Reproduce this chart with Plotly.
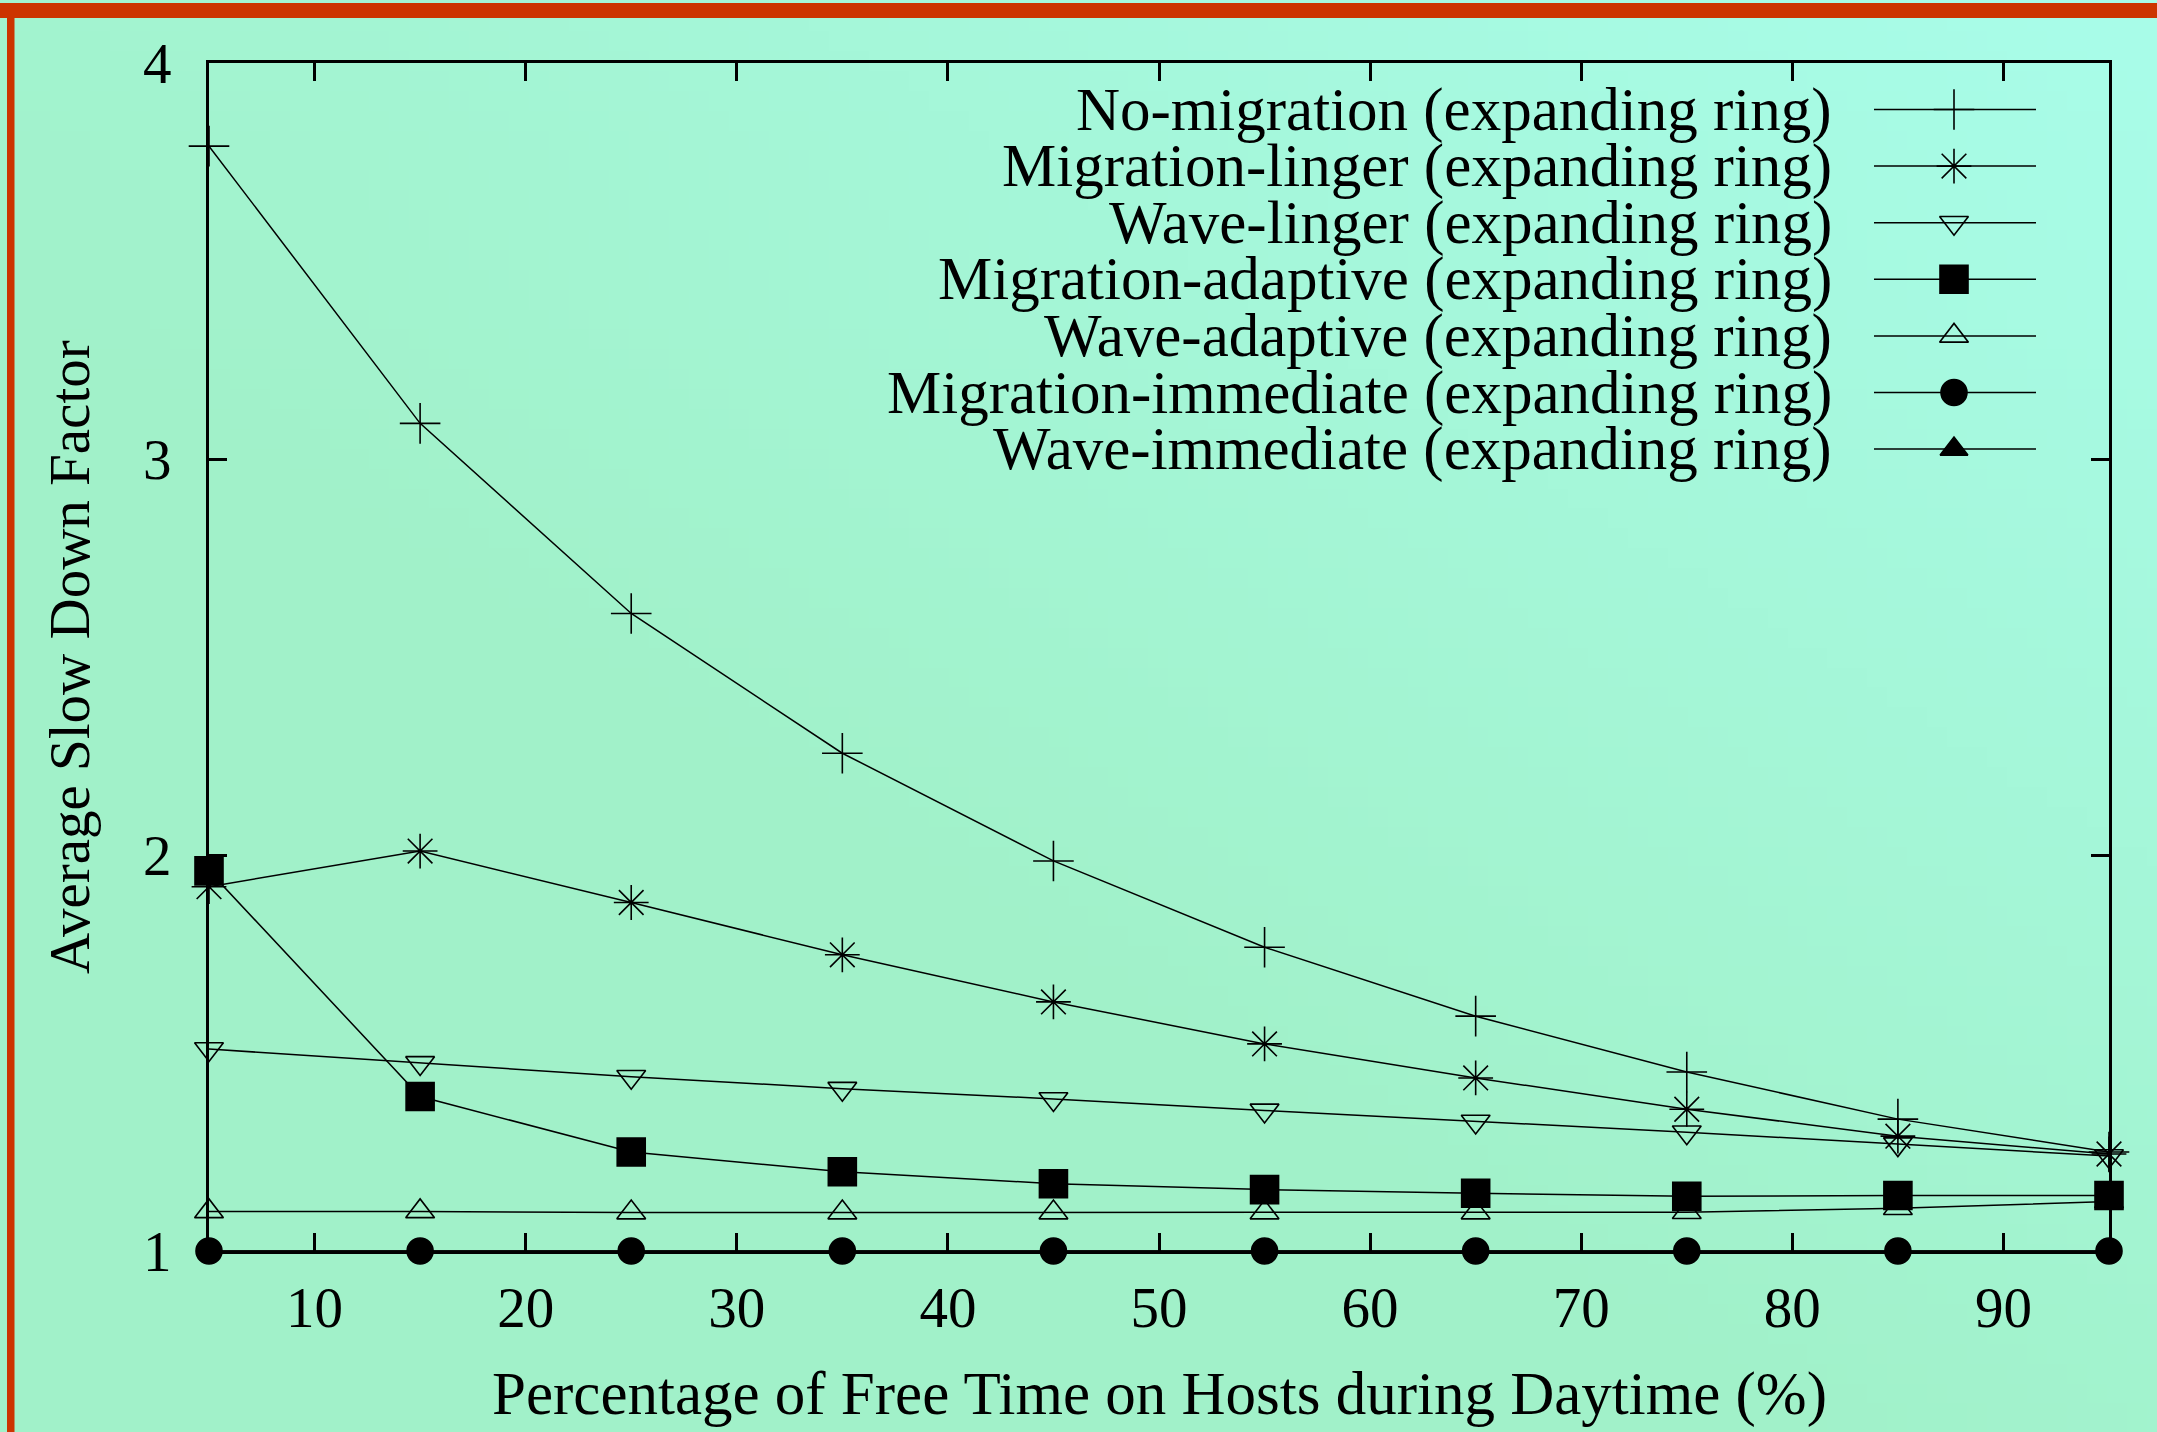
import base64
import struct
import zlib

import numpy as np
import plotly.graph_objects as go

# ---------------- data ----------------
free_time_pct = [5, 15, 25, 35, 45, 55, 65, 75, 85, 95]
x_ticks = [10, 20, 30, 40, 50, 60, 70, 80, 90]
y_ticks = [1, 2, 3, 4]

no_migration = [3.79, 3.09, 2.61, 2.257, 1.985, 1.767, 1.593, 1.452, 1.333, 1.25]
migration_linger = [1.92, 2.01, 1.88, 1.748, 1.629, 1.523, 1.437, 1.358, 1.29, 1.245]
wave_linger = [1.51, 1.475, 1.44, 1.41, 1.384, 1.355, 1.327, 1.30, 1.27, 1.24]
migration_adaptive = [1.96, 1.39, 1.25, 1.20, 1.17, 1.155, 1.146, 1.138, 1.14, 1.14]
wave_adaptive = [1.10, 1.10, 1.097, 1.097, 1.097, 1.097, 1.097, 1.098, 1.108, 1.125]
migration_immediate = [1.0, 1.0, 1.0, 1.0, 1.0, 1.0, 1.0, 1.0, 1.0, 1.0]
wave_immediate = [1.0, 1.0, 1.0, 1.0, 1.0, 1.0, 1.0, 1.0, 1.0, 1.0]

series_names = [
    "No-migration (expanding ring)",
    "Migration-linger (expanding ring)",
    "Wave-linger (expanding ring)",
    "Migration-adaptive (expanding ring)",
    "Wave-adaptive (expanding ring)",
    "Migration-immediate (expanding ring)",
    "Wave-immediate (expanding ring)",
]
series_values = [no_migration, migration_linger, wave_linger, migration_adaptive,
                 wave_adaptive, migration_immediate, wave_immediate]
series_symbols = ["cross-thin-open", "asterisk-open", "triangle-down-open", "square",
                  "triangle-up-open", "circle", "triangle-up"]
series_sizes = [29, 29, 25, 28, 25, 26, 19]

x_title = "Percentage of Free Time on Hosts during Daytime (%)"
y_title = "Average Slow Down Factor"

# ---------------- geometry ----------------
W, H = 2157, 1432
L, R, T, B = 209, 2109, 63, 1251  # plot area in pixels
PW, PH = R - L, B - T


def px2x(px):
    return (px - L) / PW


def py2y(py):
    return (B - py) / PH


FONT = "Liberation Serif"
FS = 57      # tick labels / y title
FS_H = 61    # horizontal long texts (legend, x title)

# ---------------- background gradient image ----------------
gw, gh = 108, 72
xf = np.linspace(0, 1, gw)[None, :]
yf = np.linspace(0, 1, gh)[:, None]
wgt = np.clip(0.85 * xf + 0.9 * (1 - yf) - 0.7, 0, 1)[..., None]
green = np.array([161, 241, 201], dtype=float)
cyan = np.array([168, 252, 232], dtype=float)
img = (green * (1 - wgt) + cyan * wgt).round().astype(np.uint8)


def make_png(arr):
    h, w, _ = arr.shape
    raw = b"".join(b"\x00" + arr[r].tobytes() for r in range(h))

    def chunk(t, d):
        return struct.pack(">I", len(d)) + t + d + struct.pack(">I", zlib.crc32(t + d) & 0xFFFFFFFF)

    return (b"\x89PNG\r\n\x1a\n"
            + chunk(b"IHDR", struct.pack(">IIBBBBB", w, h, 8, 2, 0, 0, 0))
            + chunk(b"IDAT", zlib.compress(raw))
            + chunk(b"IEND", b""))


bg_uri = "data:image/png;base64," + base64.b64encode(make_png(img)).decode()

# ---------------- figure ----------------
fig = go.Figure()

for name, vals, sym, sz in zip(series_names, series_values, series_symbols, series_sizes):
    fig.add_trace(go.Scatter(
        x=free_time_pct, y=vals, name=name, mode="lines+markers",
        line=dict(color="black", width=1.5),
        marker=dict(symbol=sym, size=sz, color="black",
                    line=dict(color="black", width=1.6)),
        cliponaxis=False, showlegend=False,
    ))

# custom legend (text right-aligned, sample on the right) on a pixel-based overlay axis
leg_text_right = 1834
leg_line_x0, leg_line_x1, leg_mark_x = 1874, 2036, 1954
leg_row0, leg_step = 109.5, 56.6
annotations = []
shapes = []
for i, (name, sym, sz) in enumerate(zip(series_names, series_symbols, series_sizes)):
    ry = leg_row0 + i * leg_step
    shapes.append(dict(type="line", xref="x2", yref="y2", x0=leg_line_x0, x1=leg_line_x1,
                       y0=ry, y1=ry, line=dict(color="black", width=1.5), layer="above"))
    fig.add_trace(go.Scatter(
        x=[leg_mark_x], y=[ry], mode="markers", xaxis="x2", yaxis="y2",
        marker=dict(symbol=sym, size=sz if sym != "triangle-up" else 24, color="black",
                    line=dict(color="black", width=1.6)),
        showlegend=False, hoverinfo="skip", cliponaxis=False,
    ))
    annotations.append(dict(text=name, xref="x2", yref="y2", x=leg_text_right, y=ry,
                            xanchor="right", yanchor="middle", showarrow=False,
                            font=dict(family=FONT, size=FS_H, color="black")))

# axis titles
annotations.append(dict(text=x_title, xref="paper", yref="paper", x=0.5, y=py2y(1394),
                        xanchor="center", yanchor="middle", showarrow=False,
                        font=dict(family=FONT, size=FS_H, color="black")))
annotations.append(dict(text=y_title, xref="paper", yref="paper", x=px2x(69), y=py2y(657),
                        xanchor="center", yanchor="middle", showarrow=False, textangle=-90,
                        font=dict(family=FONT, size=FS, color="black")))

# red frame bands (top and left)
red = "rgb(204,52,0)"
shapes.append(dict(type="rect", xref="paper", yref="paper", x0=px2x(0), x1=px2x(W),
                   y0=py2y(3), y1=py2y(18), fillcolor=red, line=dict(width=0), layer="below"))
shapes.append(dict(type="rect", xref="paper", yref="paper", x0=px2x(7), x1=px2x(14.5),
                   y0=py2y(3), y1=py2y(H), fillcolor=red, line=dict(width=0), layer="below"))

axis_common = dict(
    showline=True, linecolor="black", linewidth=3, mirror="ticks",
    ticks="inside", ticklen=18, tickwidth=2.5, tickcolor="black",
    showgrid=False, zeroline=False,
    tickfont=dict(family=FONT, size=FS, color="black"),
)

fig.update_layout(
    width=W, height=H,
    margin=dict(l=L, r=W - R, t=T, b=H - B, pad=0),
    paper_bgcolor="rgb(161,242,204)",
    plot_bgcolor="rgba(0,0,0,0)",
    showlegend=False,
    xaxis=dict(range=[5, 95], tickvals=x_ticks, ticklabelstandoff=5, **axis_common),
    yaxis=dict(range=[1, 4], tickvals=y_ticks, ticklabelstandoff=23, **axis_common),
    xaxis2=dict(range=[L, R], overlaying="x", visible=False, fixedrange=True),
    yaxis2=dict(range=[B, T], overlaying="y", visible=False, fixedrange=True),
    annotations=annotations,
    shapes=shapes,
    images=[dict(source=bg_uri, xref="paper", yref="paper", x=px2x(0), y=py2y(0),
                 sizex=W / PW, sizey=H / PH, xanchor="left", yanchor="top",
                 sizing="stretch", layer="below")],
)

fig.write_html(
    "out.html",
    config={"displayModeBar": False},
    post_script="document.body.style.margin='0';document.body.style.overflow='hidden';",
)
